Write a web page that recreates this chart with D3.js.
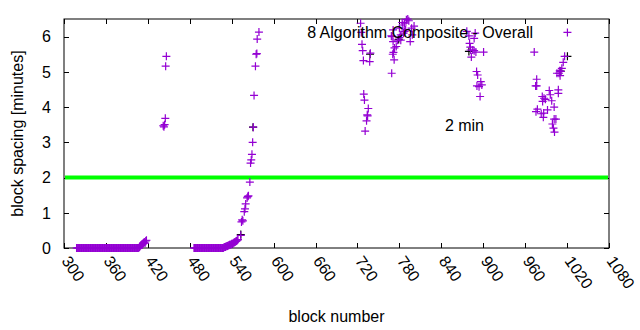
<!DOCTYPE html>
<html><head><meta charset="utf-8">
<script src="https://cdn.jsdelivr.net/npm/d3@7"></script>
<style>body{margin:0;background:#fff;} text{font-family:"Liberation Sans",Arial,sans-serif;}</style>
</head><body><svg id="c" width="640" height="330"></svg>
<script>
// ---- data ----
const xTicks = [300,360,420,480,540,600,660,720,780,840,900,960,1020,1080];
const yTicks = [0,1,2,3,4,5,6];
const refLevel = 2; // "2 min"
// purple series: block numbers and spacing (minutes)
const purpleBlocks = [
 318,319,320,321,322,323,324,325,326,327,328,329,330,331,332,333,334,335,336,337,338,339,340,341,342,343,344,345,346,347,348,349,350,
 351,352,353,354,355,356,357,358,359,360,361,362,363,364,365,366,367,368,369,370,371,372,373,374,375,376,377,378,379,380,381,382,383,
 384,385,386,387,388,389,390,391,392,393,394,395,396,397,398,399,400,401,402,403,404,405,406,407,
 408,409,410,411,412,413,414,415,416,417,418,
 442,443,444,445,445.5,446.5,
 486,487,488,489,490,491,492,493,494,495,496,497,498,499,500,501,502,503,504,505,506,507,508,509,510,511,512,513,514,515,516,517,518,
 519,520,521,522,523,524,525,526,527,528,
 529,530,531,532,533,534,535,536,537,538,539,540,541,542,543,544,545,546,547,548,549,
 553,554,555,556,558,559,560,562,563,564,566,567,568,569,570,571,572,574,575,576,576.5,579,
 724.5,725.5,726.5,727.5,728.5,738.5,737.5,729,730,735.5,734,733,731,734.5,
 769,770.5,771.5,772.5,771,769.5,771,768.5,777.5,782,780,785,787.5,790,792,789,787.5,793.5,797.5,798.5,795.5,782,780,775.5,773,801,784,786,
 876.5,888.5,879.5,887,880.5,881.5,885,887,889.5,900.5,882,883,890.5,892,896.5,898,894,891,895.5,
 1020.5,973,1016.5,1014.5,1012.5,1011,1008.5,1009.5,1010,1005.5,976.5,975,976.5,1007.5,1007.5,994.5,996,987,984.5,989,985,1001.5,992,977.5,975.5,983,986,986.5,1004,1001.5,999,1000.5,1002,998
];
const purpleSpacing = [
 0,0,0,0,0,0,0,0,0,0,0,0,0,0,0,0,0,0,0,0,0,0,0,0,0,0,0,0,0,0,0,0,0,
 0,0,0,0,0,0,0,0,0,0,0,0,0,0,0,0,0,0,0,0,0,0,0,0,0,0,0,0,0,0,0,0,0,
 0,0,0,0,0,0,0,0,0,0,0,0,0,0,0,0,0,0,0,0,0,0,0,0,
 0.03,0.05,0.08,0.1,0.09,0.13,0.15,0.17,0.14,0.2,0.22,
 3.47,3.44,3.5,3.68,5.16,5.44,
 0,0,0,0,0,0,0,0,0,0,0,0,0,0,0,0,0,0,0,0,0,0,0,0,0,0,0,0,0,0,0,0,0,
 0,0,0,0,0,0,0,0,0,0,
 0.02,0.03,0.03,0.05,0.05,0.06,0.07,0.08,0.09,0.09,0.1,0.12,0.12,0.13,0.15,0.16,0.17,0.19,0.2,0.22,0.24,
 0.36,0.74,0.8,0.77,1.03,1.11,1.25,1.42,1.46,1.48,1.87,2.41,2.5,2.66,3.0,3.43,4.33,5.16,5.5,5.52,5.93,6.13,
 6.38,6.12,5.78,5.6,5.32,5.53,5.29,4.37,4.2,3.96,3.78,3.61,3.32,3.75,
 4.96,5.5,5.55,5.34,5.86,6.0,6.19,6.02,5.9,6.05,6.24,6.33,6.38,6.48,6.5,6.19,6.15,6.45,6.24,6.05,5.86,5.9,5.97,5.72,5.68,6.3,6.4,6.1,
 6.15,6.1,6.02,5.95,5.81,5.7,5.62,5.6,5.56,5.56,5.62,5.42,5.01,4.91,4.72,4.63,4.58,4.6,4.3,
 6.12,5.56,5.44,5.27,5.1,5.01,4.96,5.03,4.89,4.96,4.79,4.6,4.6,4.39,4.49,4.47,4.35,4.25,4.3,4.22,4.16,4.0,3.92,3.94,3.87,3.81,3.71,3.83,3.66,3.66,3.52,3.4,3.29,4.18
];
// black series: points visible outside the purple marks
const blackBlocks = [553, 570.5, 738, 779, 879.5, 1020.5, 1011];
const blackSpacing = [0.38, 3.43, 5.5, 5.92, 5.58, 5.44, 5.02];

const titleText = "8 Algorithm Composite - Overall";
const refText = "2 min";

// ---- layout ----
const W = 640, H = 330;
const m = {left: 64, right: 31, top: 19, bottom: 82};
const svg = d3.select("#c");
const x = d3.scaleLinear().domain([300,1080]).range([m.left, W - m.right]);
const y = d3.scaleLinear().domain([0,6.5]).range([H - m.bottom, m.top]);
const FS = 16;

// frame
svg.append("rect").attr("x", m.left).attr("y", m.top)
  .attr("width", W - m.left - m.right).attr("height", H - m.top - m.bottom)
  .attr("fill","none").attr("stroke","#000").attr("stroke-width",1);

// ticks (inward, mirrored)
const tl = 5;
const g = svg.append("g").attr("stroke","#000").attr("stroke-width",1);
xTicks.forEach(t => {
  const px = Math.round(x(t)) + 0.5;
  g.append("line").attr("x1",px).attr("x2",px).attr("y1",y(0)).attr("y2",y(0)-tl);
  g.append("line").attr("x1",px).attr("x2",px).attr("y1",m.top).attr("y2",m.top+tl);
});
yTicks.forEach(t => {
  const py = Math.round(y(t)) + 0.5;
  g.append("line").attr("x1",m.left).attr("x2",m.left+tl).attr("y1",py).attr("y2",py);
  g.append("line").attr("x1",W-m.right).attr("x2",W-m.right-tl).attr("y1",py).attr("y2",py);
});

// tick labels
yTicks.forEach(t => {
  svg.append("text").attr("x", 51).attr("y", y(t)).attr("dy","0.36em")
    .attr("text-anchor","end").attr("font-size",FS).text(t);
});
xTicks.forEach(t => {
  svg.append("text").attr("transform",`translate(${x(t)-3},${y(0)+13}) rotate(55)`)
    .attr("text-anchor","start").attr("font-size",FS).text(t);
});

// axis titles
svg.append("text").attr("x", (m.left + W - m.right)/2).attr("y", 322)
  .attr("text-anchor","middle").attr("font-size",FS).text("block number");
svg.append("text").attr("transform",`translate(23,${(m.top + H - m.bottom)/2}) rotate(-90)`)
  .attr("text-anchor","middle").attr("font-size",FS).text("block spacing [minutes]");

// reference line
svg.append("line").attr("x1", m.left+1).attr("x2", W-m.right-1)
  .attr("y1", y(refLevel)).attr("y2", y(refLevel))
  .attr("stroke","#00ff00").attr("stroke-width",4);

// markers
const cross = "M-4,0H4M0,-4V4";
function drawSeries(bs, vs, color){
  svg.append("g").selectAll("path").data(bs.map((b,i)=>[b,vs[i]])).join("path")
    .attr("d", cross)
    .attr("transform", d => `translate(${x(d[0])},${y(d[1])})`)
    .attr("stroke", color).attr("stroke-width",1.2).attr("fill","none");
}
drawSeries(blackBlocks, blackSpacing, "#000");
drawSeries(purpleBlocks, purpleSpacing, "#9400d3");

// labels
svg.append("text").attr("x", 533).attr("y", 38).attr("text-anchor","end")
  .attr("font-size",FS).text(titleText);
svg.append("text").attr("x", 484).attr("y", 131).attr("text-anchor","end")
  .attr("font-size",FS).text(refText);
</script></body></html>
